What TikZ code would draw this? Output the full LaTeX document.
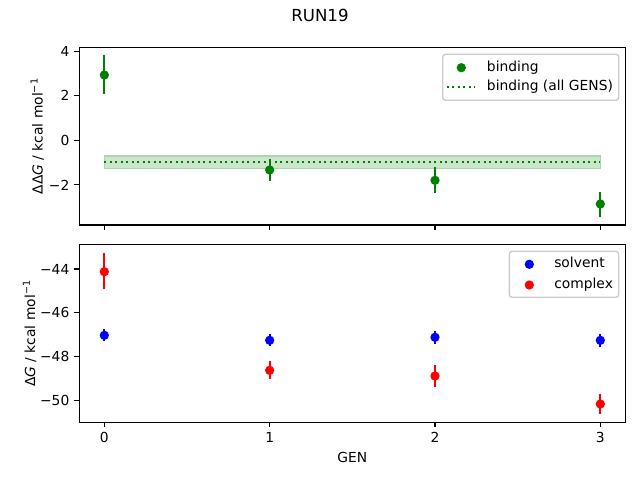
\documentclass[tikz,border=0pt]{standalone}
\usepackage{fontspec}
\setmainfont{DejaVu Sans}
\definecolor{mgreen}{RGB}{0,128,0}
\definecolor{mblue}{RGB}{0,0,255}
\definecolor{mred}{RGB}{255,0,0}
\definecolor{bandfill}{RGB}{204,230,204}
\definecolor{bandedge}{RGB}{172,213,172}
\definecolor{legframe}{RGB}{204,204,204}
\tikzset{
  spine/.style={line width=0.8pt, black},
  tickmark/.style={line width=0.8pt, black},
  ebar/.style={line width=1.5pt},
  dot/.style={circle, inner sep=0pt, minimum size=6.7bp, draw=none},
  ticklab/.style={inner sep=0pt, font=\fontsize{10}{12}\selectfont},
  axlab/.style={inner sep=0pt, font=\fontsize{10}{12}\selectfont},
  legtext/.style={inner sep=0pt, anchor=west, text height=0.76em, text depth=0.24em, font=\fontsize{10}{12}\selectfont},
  legbox/.style={draw=legframe, fill=white, fill opacity=0.8, line width=1pt, rounded corners=2bp},
  dotline/.style={line width=1.5pt, dash pattern=on 1.5pt off 2.475pt, mgreen},
}
\begin{document}
\begin{tikzpicture}[x=0.72bp, y=-0.72bp]
\path[use as bounding box] (0,0) rectangle (640,480);
% title
\node[axlab, anchor=base, font=\fontsize{12}{14}\selectfont] (title) at (320,22) {RUN19};
% ---------- top axes ----------
\coordinate (tA) at (79.3,47.5);
\coordinate (tB) at (625.3,225);
% band and mean line
\coordinate (bandL) at (104.33,156);
\coordinate (bandR) at (600.33,168.3);
\fill[bandfill, draw=bandedge, line width=1pt] (bandL) rectangle (bandR);
\coordinate (meanL) at (104.33,162);
\coordinate (meanR) at (600.33,162);
\draw[dotline] (meanL) -- (meanR);
% binding points
\foreach \n/\x/\y/\a/\b in {t0/104.33/75/55/94.3, t1/269.67/170/159/180.7, t2/435/180.3/167/192.7, t3/600.33/204/192/216.7}{
  \coordinate (\n a) at (\x,\a);
  \coordinate (\n b) at (\x,\b);
  \draw[ebar, mgreen] (\n a) -- (\n b);
  \node[dot, fill=mgreen] (\n) at (\x,\y) {};
}
\draw[spine] (tA) rectangle (tB);
% top y ticks
\foreach \n/\v/\y in {ty4/4/51.1, ty2/2/95.7, ty0/0/140.3, tym2/−2/184.9}{
  \coordinate (\n s) at (79.3,\y);
  \coordinate (\n e) at (74.44,\y);
  \draw[tickmark] (\n s) -- (\n e);
  \node[ticklab, anchor=east] (\n l) at (69.6,\y) {\v};
}
% top x ticks
\foreach \n/\x in {tx0/104.33, tx1/269.67, tx2/435, tx3/600.33}{
  \coordinate (\n s) at (\x,225);
  \coordinate (\n e) at (\x,229.86);
  \draw[tickmark] (\n s) -- (\n e);
}
\node[axlab, rotate=90, anchor=base] (tylab) at (42.7,136.2) {ΔΔ\textit{G} / kcal mol\textsuperscript{−1}};
% top legend
\draw[legbox] (442.7,54.3) rectangle (618.7,100.3);
\node[dot, fill=mgreen] (lg1) at (461.3,67.7) {};
\node[legtext] (lg1t) at (486.7,67.7) {binding};
\coordinate (lg2a) at (446.7,86.7);
\coordinate (lg2b) at (475,86.7);
\draw[dotline] (lg2a) -- (lg2b);
\node[legtext] (lg2t) at (486.7,86.7) {binding (all GENS)};
% ---------- bottom axes ----------
\coordinate (bA) at (79.3,244.5);
\coordinate (bB) at (625.3,422.3);
\foreach \n/\x/\y/\a/\b in {s0/104.33/335.3/329.4/341, s1/269.67/340.3/334.3/346.3, s2/435/337.3/330.8/343.6, s3/600.33/340.3/334.3/346.6}{
  \coordinate (\n a) at (\x,\a);
  \coordinate (\n b) at (\x,\b);
  \draw[ebar, mblue] (\n a) -- (\n b);
  \node[dot, fill=mblue] (\n) at (\x,\y) {};
}
\foreach \n/\x/\y/\a/\b in {c0/104.33/271.7/253.3/288.7, c1/269.67/370.3/361/379, c2/435/376/365/386.7, c3/600.33/404/393.7/413.7}{
  \coordinate (\n a) at (\x,\a);
  \coordinate (\n b) at (\x,\b);
  \draw[ebar, mred] (\n a) -- (\n b);
  \node[dot, fill=mred] (\n) at (\x,\y) {};
}
\draw[spine] (bA) rectangle (bB);
% bottom y ticks
\foreach \n/\v/\y in {by44/−44/269, by46/−46/312.9, by48/−48/356.8, by50/−50/400.75}{
  \coordinate (\n s) at (79.3,\y);
  \coordinate (\n e) at (74.44,\y);
  \draw[tickmark] (\n s) -- (\n e);
  \node[ticklab, anchor=east] (\n l) at (69.6,\y) {\v};
}
% bottom x ticks
\foreach \n/\v/\x in {bx0/0/104.33, bx1/1/269.67, bx2/2/435, bx3/3/600.33}{
  \coordinate (\n s) at (\x,422.3);
  \coordinate (\n e) at (\x,427.16);
  \draw[tickmark] (\n s) -- (\n e);
  \node[ticklab, anchor=base] (\n l) at (\x,442.3) {\v};
}
\node[axlab, anchor=base] (xlab) at (352.3,462.3) {GEN};
\node[axlab, rotate=90, anchor=base] (bylab) at (35,333.4) {Δ\textit{G} / kcal mol\textsuperscript{−1}};
% bottom legend
\draw[legbox] (509.3,251.3) rectangle (618.7,297.3);
\node[dot, fill=mblue] (lb1) at (529.3,264.3) {};
\node[legtext] (lb1t) at (554,264.3) {solvent};
\node[dot, fill=mred] (lb2) at (529.3,285) {};
\node[legtext] (lb2t) at (554,285) {complex};
\end{tikzpicture}
\end{document}
